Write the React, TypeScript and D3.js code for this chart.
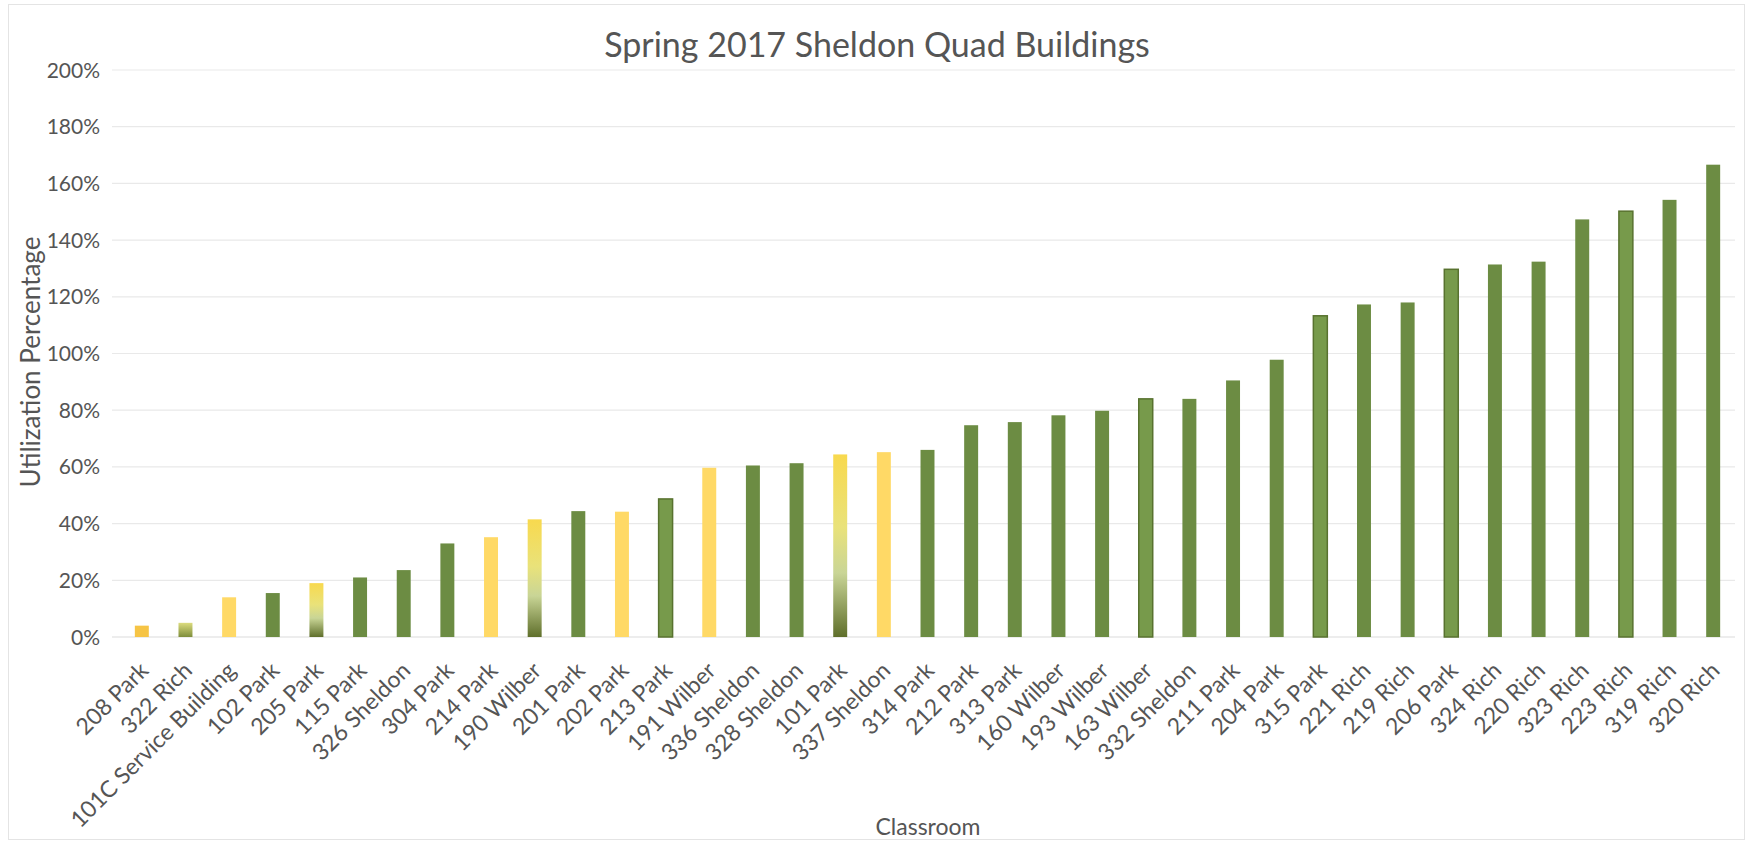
import React from 'react'
import * as d3 from 'd3'

const categories = [
  '208 Park', '322 Rich', '101C Service Building', '102 Park', '205 Park', '115 Park',
  '326 Sheldon', '304 Park', '214 Park', '190 Wilber', '201 Park', '202 Park', '213 Park',
  '191 Wilber', '336 Sheldon', '328 Sheldon', '101 Park', '337 Sheldon', '314 Park',
  '212 Park', '313 Park', '160 Wilber', '193 Wilber', '163 Wilber', '332 Sheldon',
  '211 Park', '204 Park', '315 Park', '221 Rich', '219 Rich', '206 Park', '324 Rich',
  '220 Rich', '323 Rich', '223 Rich', '319 Rich', '320 Rich'
]

// utilization as a fraction
const utilization = [
  0.04, 0.05, 0.14, 0.155, 0.19, 0.21, 0.236, 0.33, 0.352, 0.415, 0.444, 0.442, 0.487,
  0.597, 0.605, 0.613, 0.644, 0.652, 0.66, 0.747, 0.758, 0.782, 0.798, 0.84, 0.84,
  0.905, 0.978, 1.133, 1.173, 1.18, 1.297, 1.314, 1.324, 1.473, 1.502, 1.542, 1.666
]

// o = orange-yellow, y = yellow, g = green, e = green w/ darker edge, m = mixed, l = light green
const barStyle = [
  'o', 'l', 'y', 'g', 'm', 'g', 'g', 'g', 'y', 'm', 'g', 'y', 'e', 'y', 'g', 'g', 'm', 'y',
  'g', 'g', 'g', 'g', 'g', 'e', 'g', 'g', 'g', 'e', 'g', 'g', 'e', 'g', 'g', 'g', 'e', 'g', 'g'
]

const yTicks = [0, 0.2, 0.4, 0.6, 0.8, 1.0, 1.2, 1.4, 1.6, 1.8, 2.0]

const W = 1749
const H = 846
const FONT = 'Lato, "Open Sans", sans-serif'
const TEXT = '#555555'

const fills: Record<string, string> = {
  o: '#F6C445',
  y: '#FFD966',
  g: '#6C8C43',
  e: '#779A4B',
  m: 'url(#mixGrad)',
  l: 'url(#lightGrad)'
}

export default function App() {
  const x = d3.scaleBand<string>()
    .domain(categories)
    .range([120, 1735])
    .paddingInner(0.68)
    .paddingOuter(0.34)

  const y = d3.scaleLinear().domain([0, 2]).range([637, 70])
  const fmt = d3.format('.0%')

  return (
    <div style={{ position: 'absolute', left: 0, top: 0, background: '#fff' }}>
      <svg width={W} height={H} style={{ display: 'block', fontFamily: FONT }}>
        <defs>
          <linearGradient id="mixGrad" x1="0" y1="0" x2="0" y2="1">
            <stop offset="0%" stopColor="#F8D94E" />
            <stop offset="40%" stopColor="#E9E27A" />
            <stop offset="65%" stopColor="#C9D596" />
            <stop offset="100%" stopColor="#5F6F2B" />
          </linearGradient>
          <linearGradient id="lightGrad" x1="0" y1="0" x2="0" y2="1">
            <stop offset="0%" stopColor="#DCDC7E" />
            <stop offset="100%" stopColor="#7E8E3C" />
          </linearGradient>
        </defs>

        <rect x={0} y={0} width={W} height={H} fill="#fff" />
        <rect x={8.5} y={4.5} width={1736} height={835} fill="none" stroke="#e4e4e4" strokeWidth={1} />

        {/* gridlines */}
        {yTicks.map(t => (
          <line key={'g' + t} x1={112} x2={1735} y1={y(t)} y2={y(t)}
            stroke={t === 0 ? '#dcdcdc' : '#e9e9e9'} strokeWidth={1.2} />
        ))}

        {/* y tick labels */}
        {yTicks.map(t => (
          <text key={'t' + t} x={100} y={y(t)} dy="0.36em" textAnchor="end"
            fontSize={21} fill={TEXT}>{fmt(t)}</text>
        ))}

        {/* bars */}
        {categories.map((c, i) => {
          const s = barStyle[i]
          const top = y(utilization[i])
          return (
            <rect key={c} x={x(c)} y={top} width={x.bandwidth()} height={y(0) - top}
              fill={fills[s]}
              stroke={s === 'e' ? '#58722F' : 'none'} strokeWidth={s === 'e' ? 1.5 : 0} />
          )
        })}

        {/* x labels */}
        {categories.map(c => {
          const cx = (x(c) as number) + x.bandwidth() / 2 + 8
          const ly = 672
          return (
            <text key={'l' + c} x={cx} y={ly} textAnchor="end" fontSize={23} fill={TEXT}
              transform={`rotate(-45 ${cx} ${ly})`}>{c}</text>
          )
        })}

        {/* titles */}
        <text x={877} y={57} textAnchor="middle" fontSize={34} fill={TEXT}>
          Spring 2017 Sheldon Quad Buildings
        </text>
        <text x={928} y={835} textAnchor="middle" fontSize={23} fill={TEXT}>Classroom</text>
        <text transform="translate(40,362) rotate(-90)" textAnchor="middle" fontSize={26} fill={TEXT}>
          Utilization Percentage
        </text>
      </svg>
    </div>
  )
}
